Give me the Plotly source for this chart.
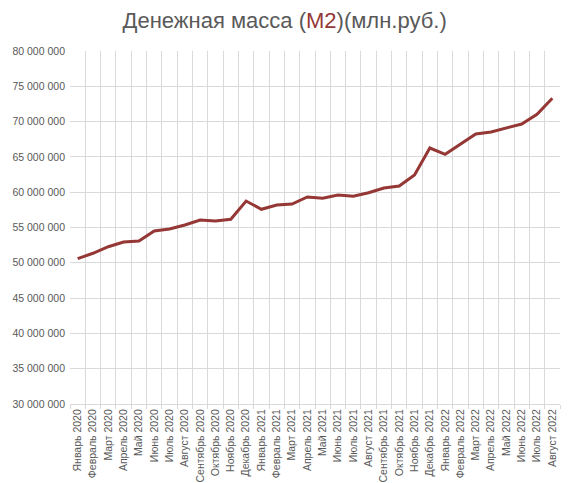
import plotly.graph_objects as go

months = ["Январь", "Февраль", "Март", "Апрель", "Май", "Июнь", "Июль",
          "Август", "Сентябрь", "Октябрь", "Ноябрь", "Декабрь"]
years = [2020, 2021, 2022]

# Jan 2020 .. Aug 2022
labels = [m + " " + str(y) for y in years for m in months][:32]

# M2, mln rub
m2 = [50580000, 51350000, 52280000, 52950000, 53090000, 54500000,
      54790000, 55350000, 56060000, 55920000, 56160000, 58750000,
      57580000, 58190000, 58330000, 59320000, 59130000, 59600000,
      59420000, 59930000, 60600000, 60880000, 62440000, 66260000,
      65370000, 66780000, 68240000, 68530000, 69100000, 69660000,
      71040000, 73300000]

y_ticks = list(range(30000000, 80000001, 5000000))

grid = "#d9d9d9"
text_col = "#595959"

idx = list(range(len(labels)))
# grid lines sit between the months, like an Excel category axis
bounds = [i - 0.5 for i in range(len(labels) + 1)]

fig = go.Figure()

fig.add_trace(go.Scatter(x=idx,
                         y=m2,
                         mode="lines",
                         line_color="#953735",
                         line_width=3,
                         showlegend=False))

# page body has an 8px margin: shift everything up/left by 8px
fig.update_layout(width=574,
                  height=483,
                  margin=dict(l=62, r=22, t=43, b=87),
                  paper_bgcolor="white",
                  plot_bgcolor="white",
                  separators=", ",
                  font=dict(family="Liberation Sans, Arial", color=text_col,
                            size=10),
                  title=dict(text="Денежная масса (<span style='color:#953735'>"
                                  "M2</span>)(млн.руб.)",
                             x=0.482, xanchor="center",
                             y=0.975, yanchor="middle",
                             font=dict(size=22, color=text_col)))

fig.update_xaxes(range=[-0.5, len(labels) - 0.5],
                 automargin=False,
                 tickmode="array",
                 tickvals=idx,
                 ticktext=labels,
                 tickangle=-90,
                 ticks="",
                 showgrid=False,
                 zeroline=False,
                 minor=dict(tickmode="array",
                            tickvals=bounds,
                            showgrid=True,
                            gridcolor=grid,
                            gridwidth=1,
                            ticks="outside",
                            ticklen=4,
                            tickcolor=grid),
                 showline=True,
                 linecolor=grid,
                 tickfont=dict(size=10.5, color=text_col))

fig.update_yaxes(range=[30000000, 80000000],
                 automargin=False,
                 tickvals=y_ticks,
                 tickformat=",d",
                 showgrid=True,
                 gridcolor=grid,
                 gridwidth=1,
                 zeroline=False,
                 ticks="",
                 ticklabelstandoff=4,
                 tickfont=dict(size=10.5, color=text_col))

fig.write_html("out.html")
